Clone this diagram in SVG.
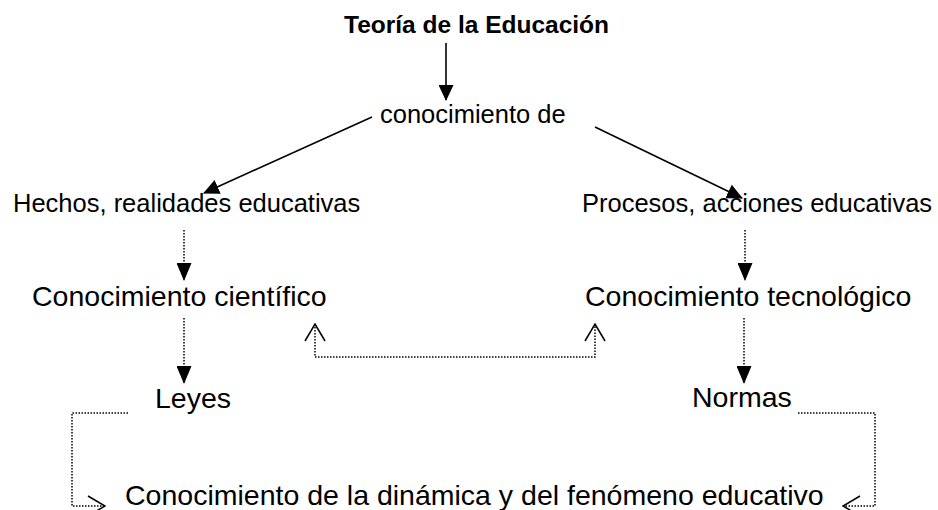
<svg xmlns="http://www.w3.org/2000/svg" width="938" height="510" viewBox="0 0 938 510">
<style>
text{font-family:"Liberation Sans",Arial,sans-serif;fill:#000}
.t{font-weight:bold;font-size:24.5px}
.m{font-size:25.5px}
.b{font-size:28.5px}
.s{fill:none;stroke:#000;stroke-width:1.6}
.d{fill:none;stroke:#000;stroke-width:1.5;stroke-dasharray:1.5 1.5}
</style>
<defs>
<marker id="fa" markerUnits="userSpaceOnUse" viewBox="0 0 16 15" markerWidth="16" markerHeight="15" refX="15" refY="7.5" orient="auto"><path d="M0,0 L16,7.5 L0,15 z" fill="#000"/></marker>
<marker id="fd" markerUnits="userSpaceOnUse" viewBox="0 0 18 15" markerWidth="18" markerHeight="15" refX="17" refY="7.5" orient="auto"><path d="M0,0 L18,7.5 L0,15 z" fill="#000"/></marker>
<marker id="oa" markerUnits="userSpaceOnUse" viewBox="-1 -1 19 22" markerWidth="19" markerHeight="22" refX="17" refY="10" orient="auto-start-reverse"><path d="M0,0 L17,10 L0,20" fill="none" stroke="#000" stroke-width="1.5"/></marker>
</defs>
<g id="connectors">
<line class="s" x1="446" y1="43" x2="446" y2="100" marker-end="url(#fa)"/>
<line class="s" x1="372" y1="117" x2="204" y2="193" marker-end="url(#fa)"/>
<line class="s" x1="595" y1="127" x2="742" y2="198" marker-end="url(#fa)"/>
<line class="d" x1="184" y1="230" x2="184" y2="280" marker-end="url(#fd)"/>
<line class="d" x1="745" y1="230" x2="745" y2="280" marker-end="url(#fd)"/>
<line class="d" x1="184" y1="318" x2="184" y2="383" marker-end="url(#fd)"/>
<line class="d" x1="744" y1="318" x2="744" y2="383" marker-end="url(#fd)"/>
<path class="d" d="M315,324 L315,357 L595,357 L595,324" marker-start="url(#oa)" marker-end="url(#oa)"/>
<path class="d" d="M128,413 L72,413 L72,506 L105,506" marker-end="url(#oa)"/>
<path class="d" d="M798,413 L875,413 L875,506 L843,506" marker-end="url(#oa)"/>
</g>
<g id="teoria"><text class="t" x="344" y="33">Teoría de la Educación</text></g>
<g id="conocimiento-de"><text class="m" x="380" y="123">conocimiento de</text></g>
<g id="hechos"><text class="m" x="13" y="212">Hechos, realidades educativas</text></g>
<g id="procesos"><text class="m" x="582" y="212">Procesos, acciones educativas</text></g>
<g id="cientifico"><text class="b" x="32" y="306">Conocimiento científico</text></g>
<g id="tecnologico"><text class="b" x="585" y="306">Conocimiento tecnológico</text></g>
<g id="leyes"><text class="b" x="155" y="408">Leyes</text></g>
<g id="normas"><text class="b" x="692" y="407">Normas</text></g>
<g id="dinamica"><text class="b" x="125" y="505">Conocimiento de la dinámica y del fenómeno educativo</text></g>
</svg>
